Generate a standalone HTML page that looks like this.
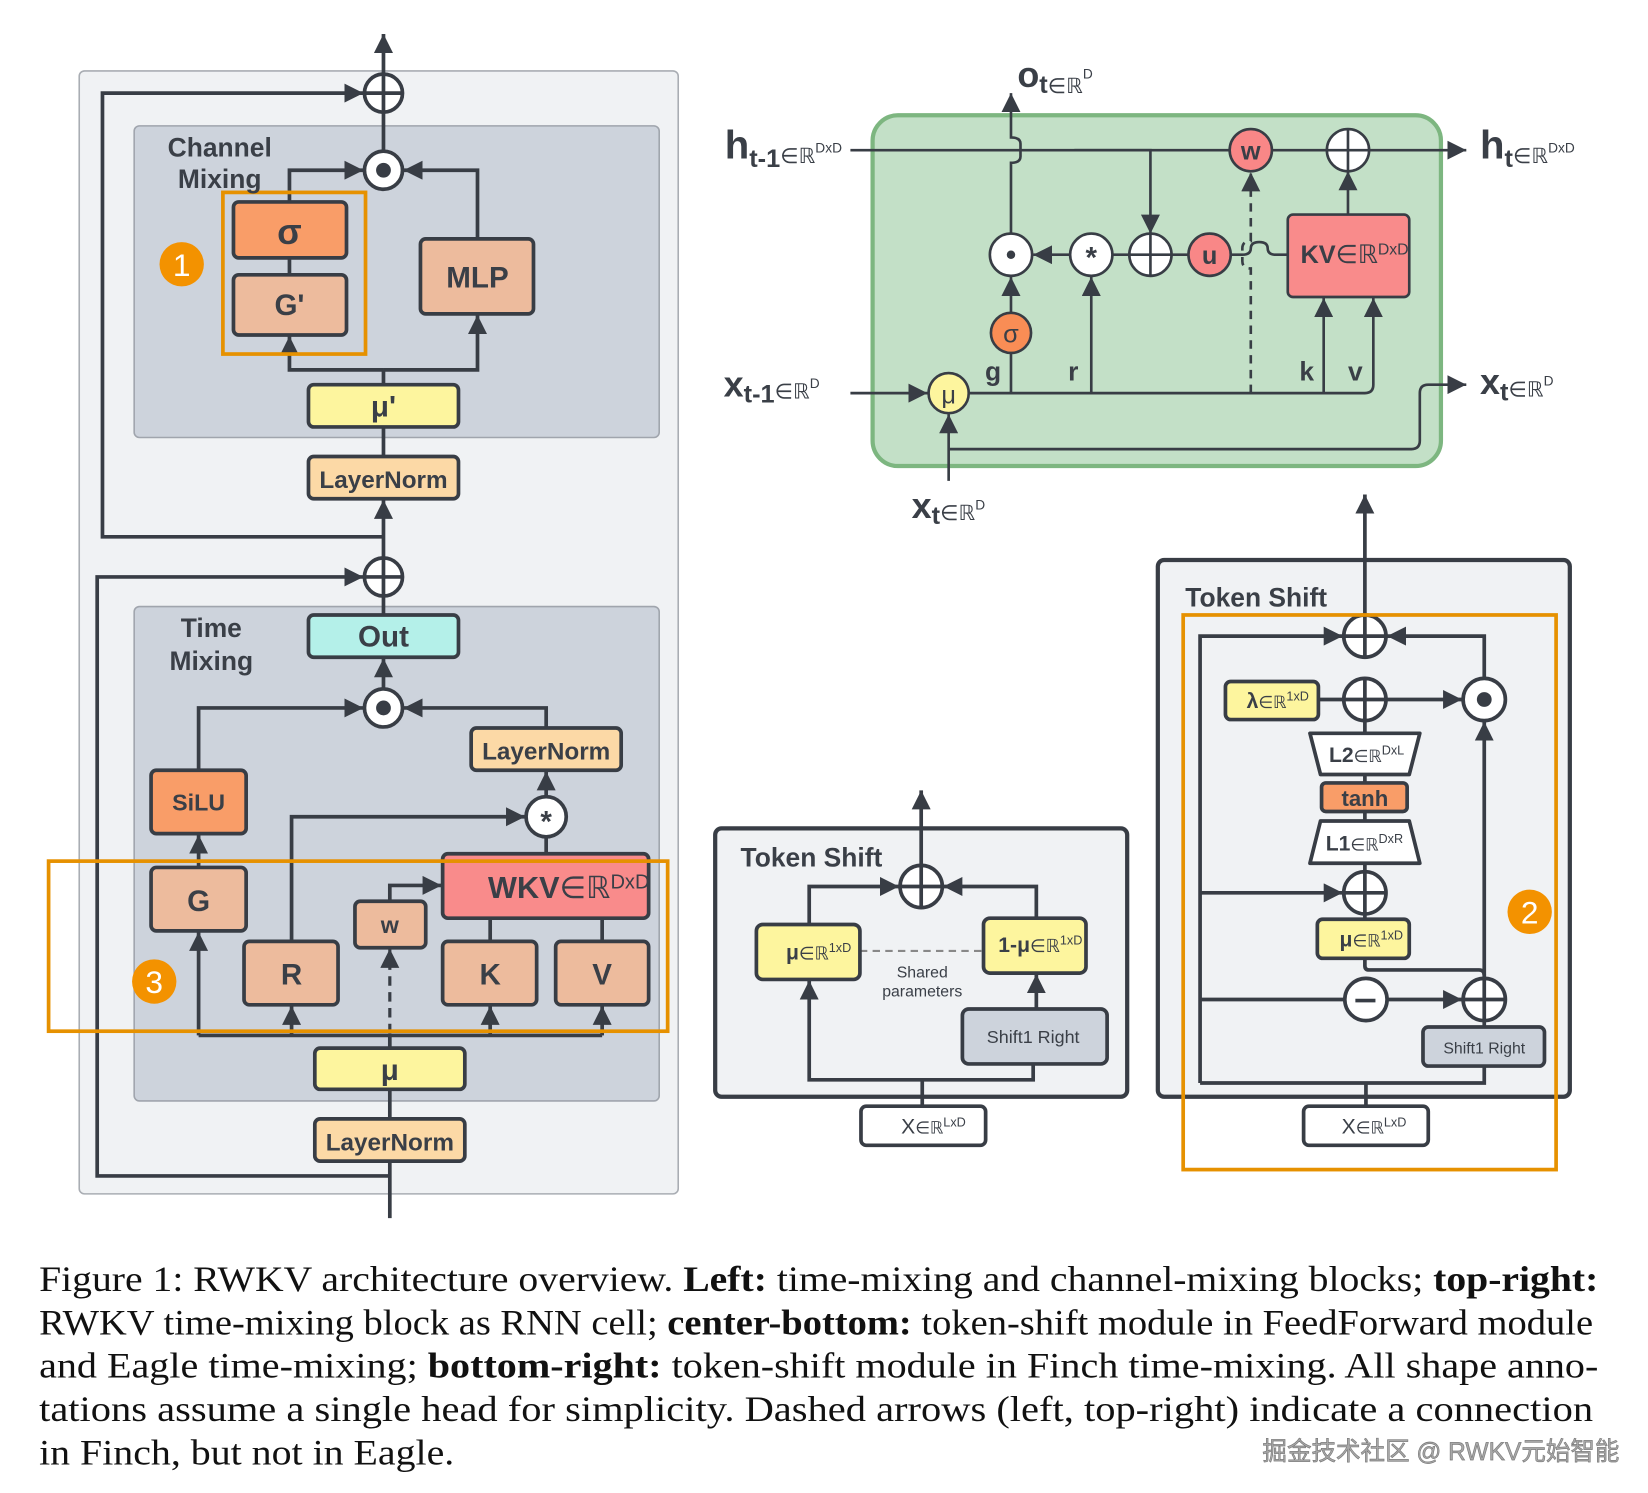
<!DOCTYPE html>
<html><head><meta charset="utf-8">
<style>
html,body{margin:0;padding:0;background:#fff;}
svg{display:block;}
.t{font-family:"Liberation Sans",sans-serif;font-weight:bold;fill:#3a3f47;}
.n{font-family:"Liberation Sans",sans-serif;fill:#3a3f47;}
.cap{font-family:"Liberation Serif",serif;font-size:34px;fill:#111;}
</style></head>
<body>
<svg width="1648" height="1493" viewBox="0 0 1560 1413" xmlns="http://www.w3.org/2000/svg">
<defs>
<marker id="a" viewBox="0 0 10 10" refX="10" refY="5" markerWidth="6" markerHeight="6" markerUnits="userSpaceOnUse" orient="auto">
</marker>
<marker id="ar" viewBox="0 0 12 12" refX="12" refY="6" markerWidth="18" markerHeight="18" markerUnits="userSpaceOnUse" orient="auto"><path d="M0,0 L12,6 L0,12 z" fill="#383d45"/></marker>
<marker id="as" viewBox="0 0 12 12" refX="12" refY="6" markerWidth="15" markerHeight="15" markerUnits="userSpaceOnUse" orient="auto"><path d="M0,0 L12,6 L0,12 z" fill="#383d45"/></marker>
</defs>

<!-- ================= LEFT ================= -->
<g stroke="#383d45" fill="none" stroke-width="3.5">
<rect x="75" y="67" width="567" height="1063" rx="5" fill="#f0f2f4" stroke="#a9adb3" stroke-width="1.5"/>
<rect x="127" y="119" width="497" height="295" rx="5" fill="#cdd3dc" stroke="#a0a5ad" stroke-width="1.5"/>
<rect x="127" y="574" width="497" height="468" rx="5" fill="#cdd3dc" stroke="#a0a5ad" stroke-width="1.5"/>

<line x1="363" y1="106" x2="363" y2="32" marker-end="url(#ar)"/>
<path d="M363,508 H97 V88 H344" marker-end="url(#ar)"/>
<line x1="363" y1="143" x2="363" y2="106"/>
<path d="M274,191 V161 H344" marker-end="url(#ar)"/>
<path d="M452,226 V161 H382" marker-end="url(#ar)"/>
<line x1="274" y1="244" x2="274" y2="260"/>
<path d="M363,364 V350 M363,350 H274 V318" marker-end="url(#ar)"/>
<path d="M363,350 H452 V298" marker-end="url(#ar)"/>
<line x1="363" y1="404" x2="363" y2="432"/>
<line x1="363" y1="528" x2="363" y2="473" marker-end="url(#ar)"/>

<path d="M369,1113 H92 V546 H344" marker-end="url(#ar)"/>
<line x1="363" y1="582" x2="363" y2="564"/>
<line x1="363" y1="652" x2="363" y2="623" marker-end="url(#ar)"/>
<path d="M188,729 V670 H344" marker-end="url(#ar)"/>
<path d="M517,689 V670 H382" marker-end="url(#ar)"/>
<line x1="517" y1="754" x2="517" y2="730" marker-end="url(#ar)"/>
<line x1="517" y1="808" x2="517" y2="792"/>
<path d="M276,891 V773 H497" marker-end="url(#ar)"/>
<path d="M369,853 V838 H418" marker-end="url(#ar)"/>
<line x1="464" y1="869" x2="464" y2="891"/>
<line x1="570" y1="869" x2="570" y2="891"/>
<line x1="188" y1="821" x2="188" y2="790" marker-end="url(#ar)"/>
<path d="M188,980 V882" marker-end="url(#ar)"/>
<line x1="188" y1="980" x2="570" y2="980"/>
<line x1="276" y1="980" x2="276" y2="952" marker-end="url(#ar)"/>
<line x1="464" y1="980" x2="464" y2="952" marker-end="url(#ar)"/>
<line x1="570" y1="980" x2="570" y2="952" marker-end="url(#ar)"/>
<line x1="369" y1="978" x2="369" y2="898" stroke-dasharray="9,6" stroke-width="3" marker-end="url(#ar)"/>
<line x1="369" y1="992" x2="369" y2="980"/>
<line x1="369" y1="1031" x2="369" y2="1059"/>
<line x1="369" y1="1099" x2="369" y2="1153"/>

<!-- boxes -->
<rect x="221" y="191" width="107" height="53" rx="5" fill="#f99d68"/>
<rect x="221" y="260" width="107" height="57" rx="5" fill="#edbb9d"/>
<rect x="398" y="226" width="107" height="71" rx="5" fill="#edbb9d"/>
<rect x="292" y="364" width="142" height="40" rx="5" fill="#fdf59e"/>
<rect x="292" y="432" width="142" height="40" rx="5" fill="#fcd9a6"/>
<rect x="292" y="582" width="142" height="40" rx="5" fill="#b4f0e9"/>
<rect x="143" y="729" width="90" height="60" rx="5" fill="#f99d68"/>
<rect x="446" y="689" width="142" height="40" rx="5" fill="#fcd9a6"/>
<rect x="419" y="808" width="195" height="61" rx="5" fill="#f98b8b"/>
<rect x="143" y="821" width="90" height="60" rx="5" fill="#edbb9d"/>
<rect x="231" y="891" width="89" height="60" rx="5" fill="#edbb9d"/>
<rect x="336" y="853" width="67" height="44" rx="5" fill="#edbb9d"/>
<rect x="419" y="891" width="89" height="60" rx="5" fill="#edbb9d"/>
<rect x="526" y="891" width="88" height="60" rx="5" fill="#edbb9d"/>
<rect x="298" y="992" width="142" height="39" rx="5" fill="#fdf59e"/>
<rect x="298" y="1059" width="142" height="40" rx="5" fill="#fcd9a6"/>

<!-- ops -->
<circle cx="363" cy="88" r="18" fill="#fff"/><path d="M345,88 H381 M363,70 V106"/>
<circle cx="363" cy="161" r="18" fill="#fff"/>
<circle cx="363" cy="546" r="18" fill="#fff"/><path d="M345,546 H381 M363,528 V564"/>
<circle cx="363" cy="670" r="18" fill="#fff"/>
<circle cx="517" cy="773" r="19" fill="#fff"/>

<!-- highlights -->
<rect x="211" y="182" width="135" height="153" stroke="#e69100" stroke-width="3.5"/>
<rect x="46" y="815" width="586" height="161" stroke="#e69100" stroke-width="3.5"/>
</g>
<circle cx="363" cy="161" r="7" fill="#383d45"/>
<circle cx="363" cy="670" r="7" fill="#383d45"/>
<circle cx="172" cy="250" r="21" fill="#f39200"/>
<circle cx="146" cy="929" r="21" fill="#f39200"/>
<text x="172" y="261" text-anchor="middle" font-family="Liberation Sans" font-size="30" fill="#fff">1</text>
<text x="146" y="940" text-anchor="middle" font-family="Liberation Sans" font-size="30" fill="#fff">3</text>

<g class="t" text-anchor="middle">
<text x="208" y="148" font-size="25">Channel</text>
<text x="208" y="178" font-size="25">Mixing</text>
<text x="274" y="231" font-size="34">σ</text>
<text x="274" y="298" font-size="28">G'</text>
<text x="452" y="272" font-size="28">MLP</text>
<text x="363" y="394" font-size="28">μ'</text>
<text x="363" y="462" font-size="23">LayerNorm</text>
<text x="200" y="603" font-size="25">Time</text>
<text x="200" y="634" font-size="25">Mixing</text>
<text x="363" y="612" font-size="28">Out</text>
<text x="188" y="767" font-size="22">SiLU</text>
<text x="517" y="719" font-size="23">LayerNorm</text>
<text x="517" y="787" font-size="28">*</text>
<text x="188" y="862" font-size="28">G</text>
<text x="276" y="932" font-size="28">R</text>
<text x="369" y="883" font-size="22">w</text>
<text x="464" y="932" font-size="28">K</text>
<text x="570" y="932" font-size="28">V</text>
<text x="369" y="1022" font-size="28">μ</text>
<text x="369" y="1089" font-size="23">LayerNorm</text>
</g>
<text x="462" y="850" class="t" font-size="29">WKV<tspan font-weight="normal">∈ℝ</tspan><tspan font-weight="normal" font-size="19" dy="-9">DxD</tspan></text>

<!-- ================= TOP RIGHT ================= -->
<g stroke="#383d45" fill="none" stroke-width="2.5">
<rect x="826" y="109" width="538" height="332" rx="24" fill="#c3e0c7" stroke="#7db680" stroke-width="4"/>
<line x1="805" y1="142" x2="1388" y2="142" marker-end="url(#ar)"/>
<path d="M1017,142 H1089 V221" marker-end="url(#ar)"/>
<line x1="1276" y1="203" x2="1276" y2="162" marker-end="url(#ar)"/>
<path d="M957,221 V154 q9,0 9,-6 v-12 q0,-6 -9,-6 V88" marker-end="url(#ar)"/>
<line x1="1013" y1="241" x2="978" y2="241" marker-end="url(#ar)"/>
<line x1="1053" y1="241" x2="1069" y2="241"/>
<line x1="1109" y1="241" x2="1125" y2="241"/>
<path d="M1165,241 H1176 q8,0 8,-6 q0,-6 8,-6 q8,0 8,6 q0,6 8,6 H1219"/>
<path d="M1184,235 V229" stroke="none"/>
<line x1="957" y1="296" x2="957" y2="262" marker-end="url(#ar)"/>
<line x1="957" y1="334" x2="957" y2="372"/>
<line x1="805" y1="372" x2="878" y2="372" marker-end="url(#ar)"/>
<path d="M917,372 H1292 q8,0 8,-8 V282" marker-end="url(#ar)"/>
<line x1="1253" y1="372" x2="1253" y2="282" marker-end="url(#ar)"/>
<line x1="1033" y1="372" x2="1033" y2="262" marker-end="url(#ar)"/>
<path d="M1184,372 V254 q-8,0 -8,-7 v-12 q0,-7 8,-7 V163" stroke-dasharray="8,6" marker-end="url(#ar)"/>
<line x1="898" y1="455" x2="898" y2="392" marker-end="url(#ar)"/>
<path d="M898,425 H1336 q8,0 8,-8 V372 q0,-8 8,-8 H1388" marker-end="url(#ar)"/>
<line x1="1292" y1="530" x2="1292" y2="468" stroke-width="3.5" marker-end="url(#ar)"/>

<circle cx="1184" cy="142" r="20" fill="#f98787"/>
<circle cx="1276" cy="142" r="20" fill="#fff"/><path d="M1256,142 H1296 M1276,122 V162"/>
<circle cx="957" cy="241" r="20" fill="#fff"/>
<circle cx="1033" cy="241" r="20" fill="#fff"/>
<circle cx="1089" cy="241" r="20" fill="#fff"/><path d="M1069,241 H1109 M1089,221 V261"/>
<circle cx="1145" cy="241" r="20" fill="#f98787"/>
<rect x="1219" y="203" width="115" height="78" rx="5" fill="#f98b8b"/>
<circle cx="957" cy="315" r="19" fill="#f98d55"/>
<circle cx="898" cy="372" r="19" fill="#fdf59e"/>
</g>
<circle cx="957" cy="241" r="4" fill="#383d45"/>
<g class="t" text-anchor="middle">
<text x="1184" y="151" font-size="24" fill="#3a3f47">w</text>
<text x="1033" y="253" font-size="28">*</text>
<text x="1145" y="250" font-size="24">u</text>
<text x="957" y="324" font-size="24" font-weight="normal">σ</text>
<text x="898" y="382" font-size="24" font-weight="normal">μ</text>
<text x="940" y="360" font-size="25">g</text>
<text x="1016" y="360" font-size="25">r</text>
<text x="1237" y="360" font-size="25">k</text>
<text x="1283" y="360" font-size="25">v</text>
</g>
<text x="1231" y="249" class="t" font-size="24">KV<tspan font-weight="normal">∈ℝ</tspan><tspan font-weight="normal" font-size="15" dy="-8">DxD</tspan></text>
<text x="963" y="82" class="t" font-size="34">o<tspan font-size="24" dy="6">t</tspan><tspan font-weight="normal" font-size="20">∈ℝ</tspan><tspan font-weight="normal" font-size="13" dy="-14">D</tspan></text>
<text x="686" y="150" class="t" font-size="38">h<tspan font-size="24" dy="8">t-1</tspan><tspan font-weight="normal" font-size="20" dy="-4">∈ℝ</tspan><tspan font-weight="normal" font-size="13" dy="-10">DxD</tspan></text>
<text x="1401" y="150" class="t" font-size="38">h<tspan font-size="24" dy="8">t</tspan><tspan font-weight="normal" font-size="20" dy="-4">∈ℝ</tspan><tspan font-weight="normal" font-size="13" dy="-10">DxD</tspan></text>
<text x="685" y="375" class="t" font-size="34">x<tspan font-size="24" dy="6">t-1</tspan><tspan font-weight="normal" font-size="20" dy="-4">∈ℝ</tspan><tspan font-weight="normal" font-size="13" dy="-10">D</tspan></text>
<text x="1401" y="373" class="t" font-size="34">x<tspan font-size="24" dy="6">t</tspan><tspan font-weight="normal" font-size="20" dy="-4">∈ℝ</tspan><tspan font-weight="normal" font-size="13" dy="-10">D</tspan></text>
<text x="863" y="490" class="t" font-size="34">x<tspan font-size="24" dy="6">t</tspan><tspan font-weight="normal" font-size="20" dy="-4">∈ℝ</tspan><tspan font-weight="normal" font-size="13" dy="-10">D</tspan></text>

<!-- ================= CENTER BOTTOM ================= -->
<g stroke="#383d45" fill="none" stroke-width="3.5">
<rect x="677" y="784" width="390" height="254" rx="6" fill="#f0f2f4" stroke-width="4"/>
<line x1="872" y1="819" x2="872" y2="748" marker-end="url(#ar)"/>
<path d="M766,875 V839 H851" marker-end="url(#ar)"/>
<path d="M981,869 V839 H893" marker-end="url(#ar)"/>
<line x1="814" y1="900" x2="931" y2="900" stroke="#888" stroke-width="2" stroke-dasharray="7,5"/>
<line x1="981" y1="955" x2="981" y2="922" marker-end="url(#ar)"/>
<path d="M873,1047 V1022 H766 V928" marker-end="url(#ar)"/>
<path d="M873,1022 H978 V1007"/>
<circle cx="872" cy="839" r="20" fill="#fff"/><path d="M852,839 H892 M872,819 V859"/>
<rect x="716" y="875" width="98" height="52" rx="6" fill="#fdf59e"/>
<rect x="931" y="869" width="97" height="52" rx="6" fill="#fdf59e"/>
<rect x="911" y="955" width="137" height="52" rx="6" fill="#cdd3dc"/>
<rect x="815" y="1047" width="118" height="37" rx="5" fill="#fff"/>
</g>
<text x="701" y="820" class="t" font-size="25">Token Shift</text>
<text x="873" y="925" class="n" font-size="15" text-anchor="middle">Shared</text>
<text x="873" y="943" class="n" font-size="15" text-anchor="middle">parameters</text>
<text x="978" y="987" class="n" font-size="17" text-anchor="middle">Shift1 Right</text>
<text x="744" y="908" class="t" font-size="20">μ<tspan font-weight="normal" font-size="17">∈ℝ</tspan><tspan font-weight="normal" font-size="12" dy="-7">1xD</tspan></text>
<text x="945" y="901" class="t" font-size="20">1-μ<tspan font-weight="normal" font-size="17">∈ℝ</tspan><tspan font-weight="normal" font-size="12" dy="-7">1xD</tspan></text>
<text x="853" y="1073" class="n" font-size="20">X<tspan font-size="16">∈ℝ</tspan><tspan font-size="12" dy="-7">LxD</tspan></text>

<!-- ================= BOTTOM RIGHT ================= -->
<g stroke="#383d45" fill="none" stroke-width="3.5">
<rect x="1096" y="530" width="390" height="508" rx="6" fill="#f0f2f4" stroke-width="4"/>
<line x1="1292" y1="582" x2="1292" y2="530"/>
<path d="M1136,1025 V602 H1271" marker-end="url(#ar)"/>
<path d="M1405,642 V602 H1313" marker-end="url(#ar)"/>
<line x1="1248" y1="662" x2="1272" y2="662"/>
<line x1="1312" y1="662" x2="1384" y2="662" marker-end="url(#ar)"/>
<line x1="1292" y1="682" x2="1292" y2="870"/>
<line x1="1136" y1="845" x2="1271" y2="845" marker-end="url(#ar)"/>
<path d="M1292,907 V914 q0,4 4,4 H1400 q5,0 5,5"/>
<line x1="1405" y1="926" x2="1405" y2="683" marker-end="url(#ar)"/>
<line x1="1136" y1="946" x2="1273" y2="946"/>
<line x1="1313" y1="946" x2="1384" y2="946" marker-end="url(#ar)"/>
<line x1="1405" y1="966" x2="1405" y2="972"/>
<path d="M1136,1025 H1405 V1009"/>
<line x1="1293" y1="1047" x2="1293" y2="1025"/>

<circle cx="1292" cy="602" r="20" fill="#fff"/><path d="M1272,602 H1312 M1292,582 V622"/>
<circle cx="1405" cy="662" r="20" fill="#fff"/>
<rect x="1160" y="645" width="88" height="36" rx="5" fill="#fdf59e"/>
<circle cx="1292" cy="662" r="20" fill="#fff"/><path d="M1272,662 H1312 M1292,642 V682"/>
<path d="M1240,694 H1344 L1334,733 H1250 Z" fill="#fff" stroke-linejoin="round"/>
<rect x="1251" y="741" width="81" height="27" rx="4" fill="#f99d68"/>
<path d="M1250,777 H1334 L1344,817 H1240 Z" fill="#fff" stroke-linejoin="round"/>
<circle cx="1292" cy="845" r="20" fill="#fff"/><path d="M1272,845 H1312 M1292,825 V865"/>
<rect x="1247" y="870" width="87" height="37" rx="5" fill="#fdf59e"/>
<circle cx="1293" cy="946" r="20" fill="#fff"/><path d="M1283,947 H1302"/>
<circle cx="1405" cy="946" r="20" fill="#fff"/><path d="M1385,946 H1425 M1405,926 V966"/>
<rect x="1347" y="972" width="115" height="37" rx="5" fill="#cdd3dc"/>
<rect x="1234" y="1047" width="118" height="37" rx="5" fill="#fff"/>
<rect x="1120" y="582" width="353" height="525" stroke="#e69100" stroke-width="3.5"/>
</g>
<circle cx="1405" cy="662" r="7" fill="#383d45"/>
<circle cx="1448" cy="863" r="21" fill="#f39200"/>
<text x="1448" y="874" text-anchor="middle" font-family="Liberation Sans" font-size="30" fill="#fff">2</text>
<text x="1122" y="574" class="t" font-size="25">Token Shift</text>
<text x="1180" y="670" class="t" font-size="20">λ<tspan font-weight="normal" font-size="16">∈ℝ</tspan><tspan font-weight="normal" font-size="12" dy="-7">1xD</tspan></text>
<text x="1258" y="721" class="t" font-size="20">L2<tspan font-weight="normal" font-size="16">∈ℝ</tspan><tspan font-weight="normal" font-size="12" dy="-7">DxL</tspan></text>
<text x="1292" y="763" class="t" font-size="21" text-anchor="middle">tanh</text>
<text x="1255" y="805" class="t" font-size="20">L1<tspan font-weight="normal" font-size="16">∈ℝ</tspan><tspan font-weight="normal" font-size="12" dy="-7">DxR</tspan></text>
<text x="1268" y="896" class="t" font-size="20">μ<tspan font-weight="normal" font-size="16">∈ℝ</tspan><tspan font-weight="normal" font-size="12" dy="-7">1xD</tspan></text>
<text x="1405" y="997" class="n" font-size="15" text-anchor="middle">Shift1 Right</text>
<text x="1270" y="1073" class="n" font-size="20">X<tspan font-size="16">∈ℝ</tspan><tspan font-size="12" dy="-7">LxD</tspan></text>

<!-- ================= CAPTION ================= -->
<text class="cap" x="37" y="1222" textLength="1476" lengthAdjust="spacingAndGlyphs">Figure 1: RWKV architecture overview. <tspan font-weight="bold">Left:</tspan> time-mixing and channel-mixing blocks; <tspan font-weight="bold">top-right:</tspan></text>
<text class="cap" x="37" y="1263" textLength="1471" lengthAdjust="spacingAndGlyphs">RWKV time-mixing block as RNN cell; <tspan font-weight="bold">center-bottom:</tspan> token-shift module in FeedForward module</text>
<text class="cap" x="37" y="1304" textLength="1476" lengthAdjust="spacingAndGlyphs">and Eagle time-mixing; <tspan font-weight="bold">bottom-right:</tspan> token-shift module in Finch time-mixing. All shape anno-</text>
<text class="cap" x="37" y="1345" textLength="1471" lengthAdjust="spacingAndGlyphs">tations assume a single head for simplicity. Dashed arrows (left, top-right) indicate a connection</text>
<text class="cap" x="37" y="1386" textLength="393" lengthAdjust="spacingAndGlyphs">in Finch, but not in Eagle.</text>
<text x="1195" y="1382" textLength="338" lengthAdjust="spacingAndGlyphs" font-family="'Liberation Sans','Noto Sans CJK SC',sans-serif" font-size="24" fill="#a8a8a8" stroke="#777" stroke-width="0.6">掘金技术社区 @ RWKV元始智能</text>
</svg>
</body></html>
